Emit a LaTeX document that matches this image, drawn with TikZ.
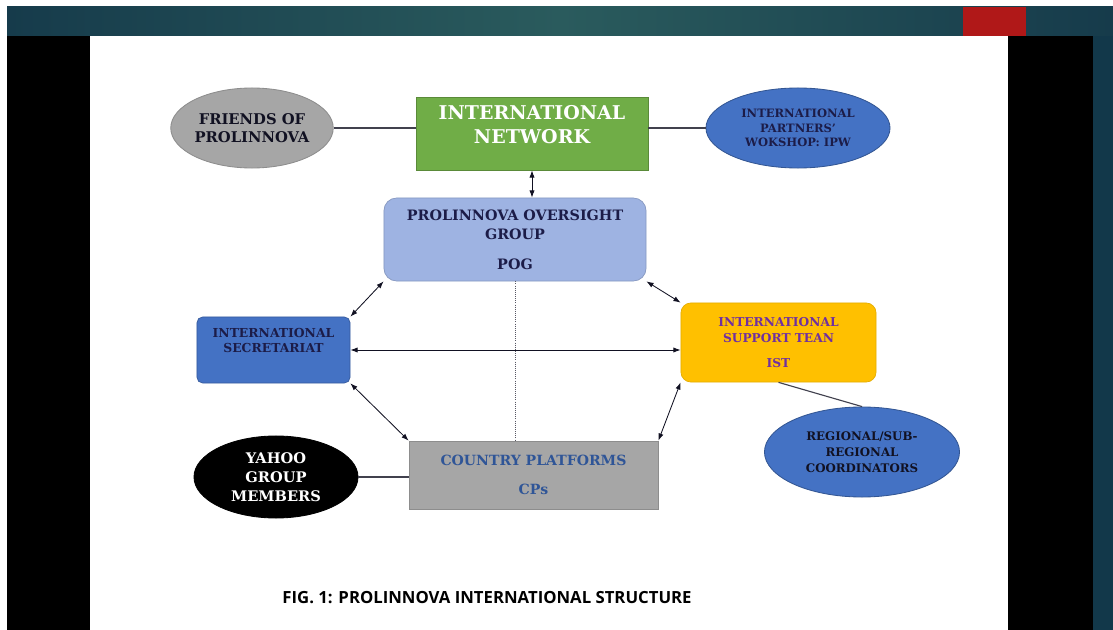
\documentclass[tikz,border=0pt]{standalone}
\usepackage{fontspec}
\setmainfont{DejaVu Serif}
\newfontfamily\capfont{Open Sans}
\usetikzlibrary{
  arrows.meta,
  calc,
  positioning,
  shapes.geometric
}
\definecolor{prolInk}{HTML}{111122}
\definecolor{prolNavy}{HTML}{1C1C48}
\definecolor{prolGreen}{HTML}{70AD47}
\definecolor{prolBlue}{HTML}{4472C4}
\definecolor{prolLavender}{HTML}{9EB3E2}
\definecolor{prolGold}{HTML}{FFC000}
\definecolor{prolPurple}{HTML}{7030A0}
\definecolor{prolGrey}{HTML}{A6A6A6}
\definecolor{prolCpText}{HTML}{2F5597}
\definecolor{bandDark}{HTML}{163B4B}
\definecolor{bandEdge}{HTML}{12384A}
\definecolor{bandMid}{HTML}{2A5B5D}
\definecolor{bandRed}{HTML}{B01818}
\tikzset{
  every node/.style={font=\bfseries, text=prolInk},
  oval/.style={
    ellipse,
    inner sep=0pt,
    align=center,
    line width=0.6pt
  },
  boxy/.style={
    rectangle,
    inner sep=0pt,
    align=center,
    line width=0.5pt
  },
  link/.style={
    line width=0.8pt,
    draw=prolInk!80
  },
  twoway/.style={
    {Latex[length=1.8mm,width=1.3mm]}-{Latex[length=1.8mm,width=1.3mm]},
    line width=0.6pt,
    draw=prolInk
  },
  dotlink/.style={
    line width=0.5pt,
    draw=prolInk!70,
    densely dotted
  }
}

\begin{document}
\begin{tikzpicture}[x=0.025cm, y=-0.025cm]
  \useasboundingbox (0,0) rectangle (1113,630);
  \fill[white] (0,0) rectangle (1113,630);
  \shade[left color=bandDark, right color=bandDark, middle color=bandMid] (7,7) rectangle (1113,36);
  \fill[bandRed] (963,7) rectangle (1026,36);
  \fill[black] (7,36) rectangle (90,630);
  \fill[black] (1008,36) rectangle (1093,630);
  \fill[white] (90,36) rectangle (1008,630);
  \fill[bandEdge] (1093,36) rectangle (1113.5,630.5);

  \node[boxy, fill=prolGreen, draw=prolGreen!80!black, minimum width=5.8cm, minimum height=1.825cm,
    font=\bfseries\fontsize{13.5}{17}\selectfont, text=white] (net) at (532,133.5)
    {INTERNATIONAL\\NETWORK\\[-4pt]\mbox{}};
  \node[oval, fill=prolGrey, draw=prolGrey!85!black, minimum width=4cm, minimum height=2cm,
    font=\bfseries\fontsize{10.5}{13}\selectfont] (friends) at (252,128)
    {FRIENDS OF\\PROLINNOVA};
  \node[oval, fill=prolBlue, draw=prolBlue!75!black, minimum width=4.6cm, minimum height=2cm,
    font=\bfseries\fontsize{8.2}{10.5}\selectfont, text=prolNavy] (ipw) at (798,128)
    {INTERNATIONAL\\PARTNERS'\\WOKSHOP: IPW};

  \node[boxy, rounded corners=9pt, fill=prolLavender, draw=prolLavender!85!black,
    minimum width=6.55cm, minimum height=2.075cm,
    font=\bfseries\fontsize{10.2}{14}\selectfont, text=prolNavy] (pog) at (515,239.5)
    {PROLINNOVA OVERSIGHT\\GROUP\\[7pt]POG};

  \node[boxy, rounded corners=4pt, fill=prolBlue, draw=prolBlue!80!black,
    minimum width=3.825cm, minimum height=1.65cm,
    font=\bfseries\fontsize{8.8}{10.8}\selectfont, text=prolNavy] (sec) at (273.5,350)
    {INTERNATIONAL\\SECRETARIAT\\[3pt]\mbox{}};
  \node[boxy, rounded corners=7pt, fill=prolGold, draw=prolGold!90!black,
    minimum width=4.875cm, minimum height=1.975cm,
    font=\bfseries\fontsize{8.7}{11.5}\selectfont, text=prolPurple] (ist) at (778.5,342.5)
    {INTERNATIONAL\\SUPPORT TEAN\\[6pt]IST};

  \node[oval, fill=prolBlue, draw=prolBlue!75!black, minimum width=4.875cm, minimum height=2.25cm,
    font=\bfseries\fontsize{8.4}{11.5}\selectfont, text=prolInk] (reg) at (862,452)
    {REGIONAL/SUB-\\REGIONAL\\COORDINATORS};
  \node[boxy, fill=prolGrey, draw=prolGrey!85!black, minimum width=6.225cm, minimum height=1.7cm,
    font=\bfseries\fontsize{10}{12}\selectfont, text=prolCpText] (cp) at (533.5,475)
    {COUNTRY PLATFORMS\\[9pt]CPs};
  \node[oval, fill=black, draw=black, minimum width=4.1cm, minimum height=2.05cm,
    font=\bfseries\fontsize{10.4}{13.5}\selectfont, text=white] (yahoo) at (276,477)
    {YAHOO\\GROUP\\MEMBERS};

  \node[font=\capfont\bfseries\fontsize{11.9}{14}\selectfont, text=black] (cap) at (487,598)
    {FIG. 1: PROLINNOVA INTERNATIONAL STRUCTURE};

  \draw[link] (friends.east) -- (friends.east -| net.west);
  \draw[link] (ipw.west) -- (ipw.west -| net.east);
  \draw[link] (yahoo.east) -- (yahoo.east -| cp.west);
  \draw[link] (ist.south) -- (reg.north);

  \draw[twoway] (net.south) -- (net.south |- pog.north);
  \draw[twoway] (pog.south west) -- (sec.north east);
  \draw[twoway] (pog.south east) -- (ist.north west);
  \draw[twoway] (sec.east) -- (sec.east -| ist.west);
  \draw[twoway] (sec.south east) -- (cp.north west);
  \draw[twoway] (ist.south west) -- (cp.north east);
  \draw[dotlink] (pog.south) -- (pog.south |- cp.north);
\end{tikzpicture}
\end{document}
